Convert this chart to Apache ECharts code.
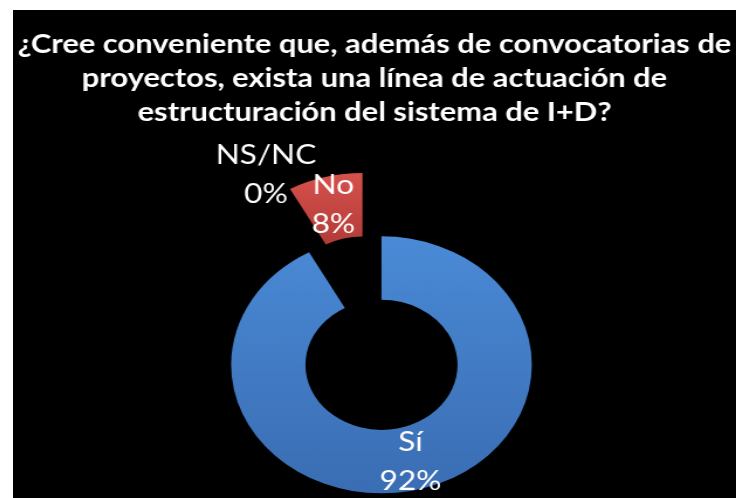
<!DOCTYPE html>
<html><head><meta charset="utf-8">
<script src="https://cdn.jsdelivr.net/npm/echarts@6/dist/echarts.min.js"></script>
<style>
html,body{margin:0;padding:0;background:#fff;width:736px;height:498px;overflow:hidden}
#c{position:absolute;left:13px;top:10px;width:618px;height:488px;transform:scaleX(1.17);transform-origin:0 0}
</style></head><body>
<div id="c"></div>
<script>
var titleText = '¿Cree conveniente que, además de convocatorias de\nproyectos, exista una línea de actuación de\nestructuración del sistema de I+D?';
var categories = ['Sí', 'No', 'NS/NC'];
var values = [92, 8, 0];
var colorsTop = ['#4a8ad6', '#d6514c', '#888888'];
var colorsBottom = ['#3a6db3', '#b23c38', '#666666'];

var chart = echarts.init(document.getElementById('c'), null, {renderer:'canvas'});
var data = categories.map(function(name, i){
  return {
    name: name,
    value: values[i],
    selected: i < 2,
    itemStyle: {color: {type:'linear', x:0, y:0, x2:0, y2:1, colorStops:[{offset:0,color:colorsTop[i]},{offset:1,color:colorsBottom[i]}]}}
  };
});
chart.setOption({
  backgroundColor: '#000',
  animation: false,
  title: {
    text: titleText,
    left: 'center',
    top: 12,
    textStyle: {color:'#fff', fontFamily:'Lato', fontWeight:'bold', fontSize:26.4, lineHeight:34}
  },
  series: [{
    type: 'pie',
    center: [306.8, 323.2],
    radius: [65, 128.5],
    startAngle: 90,
    clockwise: true,
    selectedMode: 'multiple',
    selectedOffset: 32.7,
    avoidLabelOverlap: false,
    emphasis: {disabled: true},
    label: {
      show: true,
      position: 'inside',
      formatter: '{b}\n{d}%',
      color: '#fff',
      fontFamily: 'Lato',
      fontSize: 27,
      lineHeight: 39
    },
    labelLine: {show:false},
    labelLayout: function(p){
      if (p.dataIndex === 2) return {dx: -90.6, dy: -58.5};
    },
    data: data
  }]
});
</script>
</body></html>
